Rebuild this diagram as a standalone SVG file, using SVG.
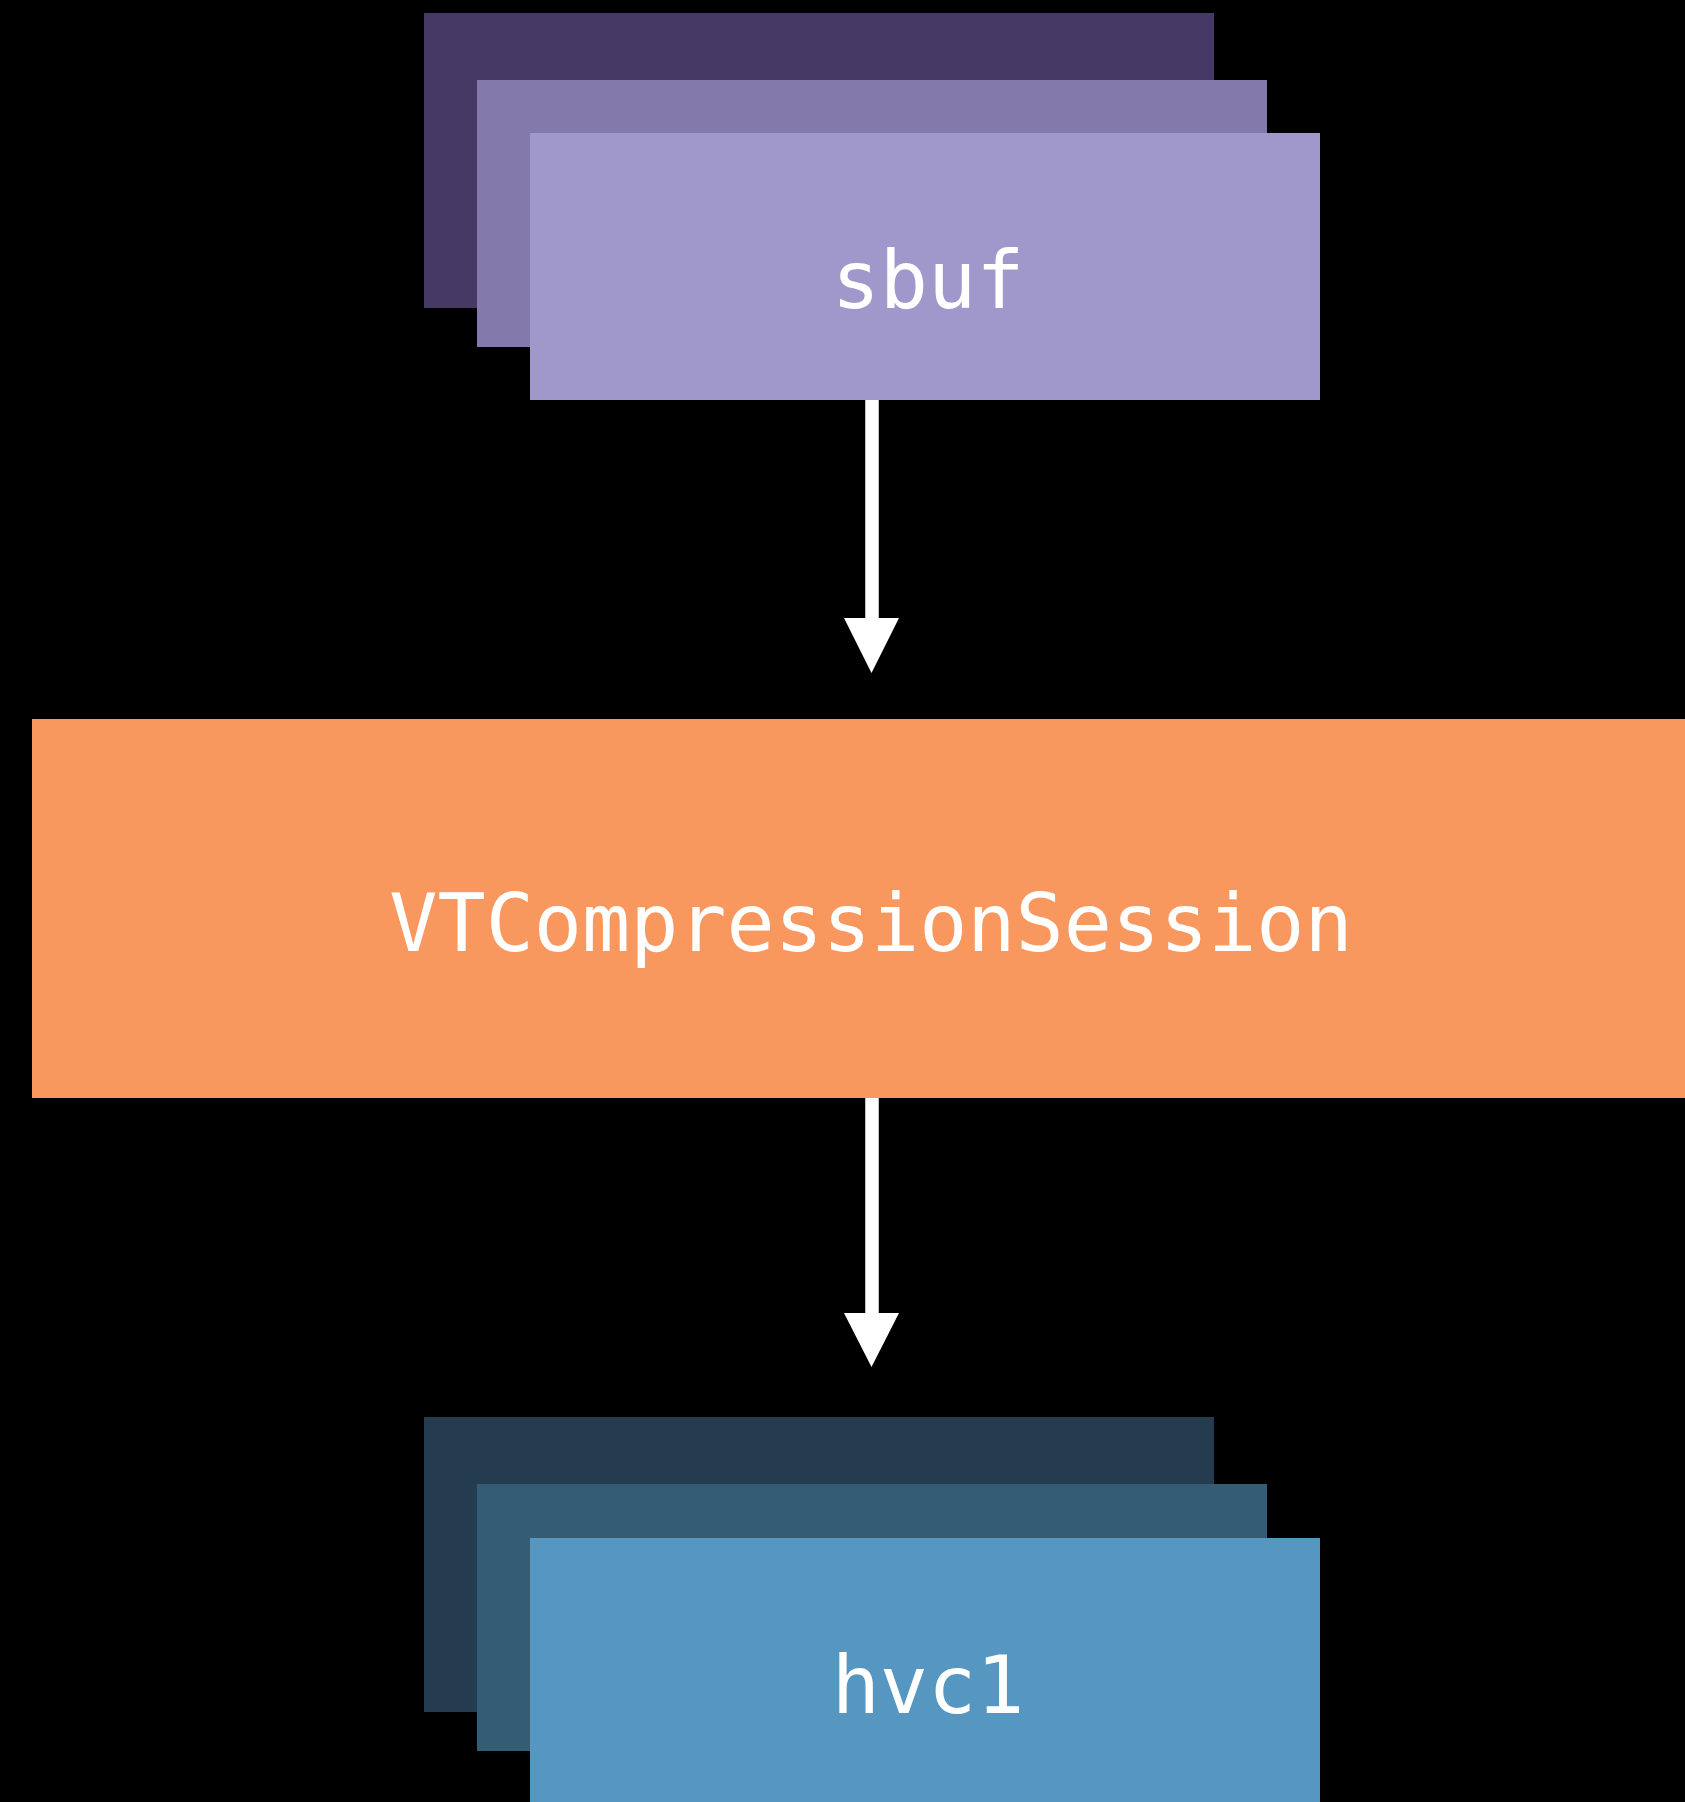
<svg xmlns="http://www.w3.org/2000/svg" width="1685" height="1802" viewBox="0 0 1685 1802">
  <defs>
    <style>
      .label { font-family: "DejaVu Sans Mono", "Liberation Mono", monospace; font-size: 80px; fill: #ffffff; text-anchor: middle; }
      .shaft { stroke: #ffffff; stroke-width: 13.5; fill: none; }
      .head { fill: #ffffff; }
    </style>
  </defs>
  <rect x="0" y="0" width="1685" height="1802" fill="#000000"/>

  <!-- input sample buffers -->
  <g id="sbuf">
    <rect x="424" y="13" width="790" height="295" fill="#463966"/>
    <rect x="477" y="80" width="790" height="267" fill="#8379AB"/>
    <rect x="530" y="133" width="790" height="267" fill="#A098CB"/>
    <text class="label" x="928" y="308">sbuf</text>
  </g>

  <!-- encoder session -->
  <g id="vtcompressionsession">
    <rect x="32" y="719" width="1653" height="379" fill="#F9985E"/>
    <text class="label" x="871" y="951">VTCompressionSession</text>
  </g>

  <!-- encoded output samples -->
  <g id="hvc1">
    <rect x="424" y="1417" width="790" height="295" fill="#253B50"/>
    <rect x="477" y="1484" width="790" height="267" fill="#345C75"/>
    <rect x="530" y="1538" width="790" height="264" fill="#5597C1"/>
    <text class="label" x="928" y="1713">hvc1</text>
  </g>

  <!-- flow arrows -->
  <g id="connectors">
    <line class="shaft" x1="872" y1="400" x2="872" y2="620"/>
    <polygon class="head" points="844,618 899,618 871.5,673"/>
    <line class="shaft" x1="872" y1="1098" x2="872" y2="1315"/>
    <polygon class="head" points="844,1313 899,1313 871.5,1367"/>
  </g>
</svg>
